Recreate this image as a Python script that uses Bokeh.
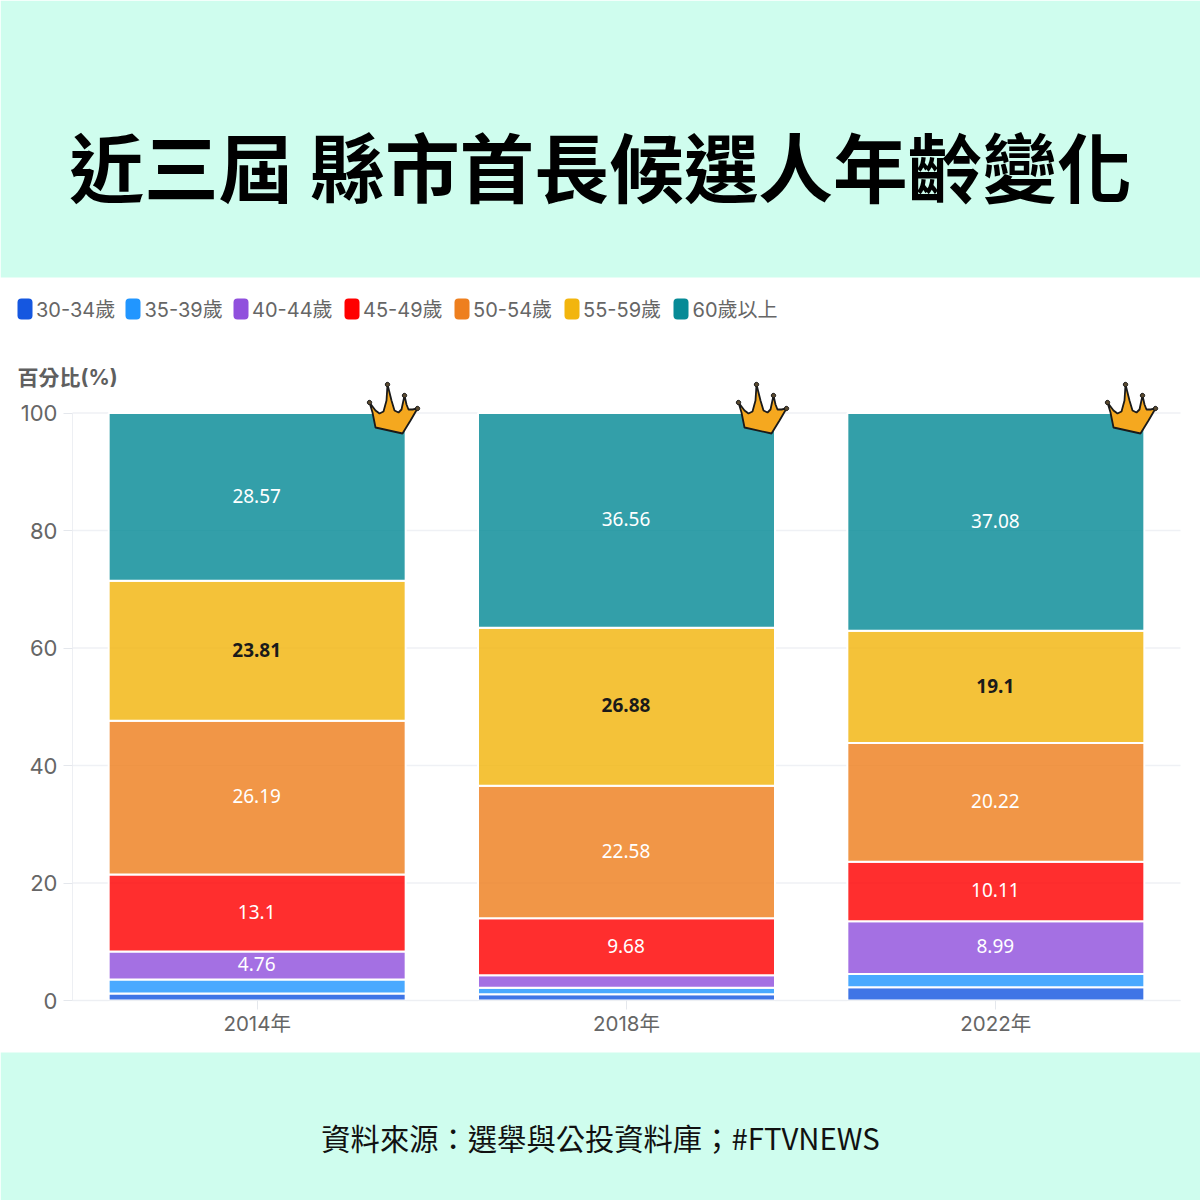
import numpy as np
from bokeh.embed import file_html
from bokeh.resources import INLINE
from bokeh.plotting import figure
from bokeh.models import BoxAnnotation, Label, PolyAnnotation, ColumnDataSource, FixedTicker, Range1d
from bokeh.core.properties import value

W, H = 1200, 1200
years = ["2014年", "2018年", "2022年"]
groups = ["30-34歲", "35-39歲", "40-44歲", "45-49歲", "50-54歲", "55-59歲", "60歲以上"]
age_30_34 = [1.19, 1.08, 2.25]
age_35_39 = [2.38, 1.08, 2.25]
age_40_44 = [4.76, 2.15, 8.99]
age_45_49 = [13.1, 9.68, 10.11]
age_50_54 = [26.19, 22.58, 20.22]
age_55_59 = [23.81, 26.88, 19.1]
age_60_up = [28.57, 36.56, 37.08]
colors = ["#1557E0", "#2196FF", "#9050DD", "#FF0000", "#EE7F1E", "#F2B50E", "#068A96"]
y_ticks = [0, 20, 40, 60, 80, 100]
title_text = "近三屆 縣市首長候選人年齡變化"
source_text = "資料來源\uff1a選舉與公投資料庫\uff1b#FTVNEWS"
y_title = "百分比(%)"
MINT = "#CFFDEE"
LATIN = "Inter, 'Noto Sans CJK TC'"
CJK = "Noto Sans CJK TC"

series = [age_30_34, age_35_39, age_40_44, age_45_49, age_50_54, age_55_59, age_60_up]

# the plotting area is the whole picture: x in pixels, y in percent
PLOT_L, PLOT_R, Y0, Y100 = 72.0, 1180.0, 1000.0, 412.5
PX = (Y0 - Y100) / 100.0
p = figure(width=W, height=H, x_range=Range1d(0, W), y_range=Range1d(-(H - Y0) / PX, Y0 / PX),
           output_backend="svg", toolbar_location=None,
           min_border=0, min_border_left=0, min_border_right=0, min_border_top=0, min_border_bottom=0,
           background_fill_color="white", border_fill_color="white", outline_line_color=None)


def band(top, bottom):
    p.add_layout(BoxAnnotation(left=0, right=W, top=top, bottom=bottom, left_units="canvas",
                               right_units="canvas", top_units="canvas", bottom_units="canvas", fill_color=MINT,
                               fill_alpha=1, line_color=None, level="underlay"))


band(0, 277)
band(1052, 1200)

step = (PLOT_R - PLOT_L) / len(years)
centers = [PLOT_L + step * (i + 0.5) for i in range(len(years))]

# grid
p.xgrid.grid_line_color = None
p.ygrid.grid_line_color = None
p.segment(x0=[PLOT_L] * len(y_ticks), x1=[PLOT_R] * len(y_ticks), y0=y_ticks, y1=y_ticks,
          line_color="#EFF1F5", line_width=1.5)

# stacked bars
data = {"x": centers}
for g, s in zip(groups, series):
    data[g] = s
src = ColumnDataSource(data)
p.vbar_stack(groups, x="x", width=297, source=src, color=colors, fill_alpha=0.82,
             line_color="white", line_width=2, line_alpha=1)

# value labels
tops = np.cumsum(np.array(series, dtype=float), axis=0)
for i, g in enumerate(groups):
    xs, ys, ts = [], [], []
    for j in range(len(years)):
        v = series[i][j]
        if v >= 4:
            xs.append(centers[j] - 0.5)
            ys.append(tops[i][j] - v / 2 + 1.2 / PX)
            ts.append(str(v))
    if xs:
        dark = g == "55-59歲"
        p.text(x=xs, y=ys, text=ts, text_align="center", text_baseline="middle",
               text_font=value("Noto Sans"), text_font_size="19px",
               text_font_style="bold" if dark else "normal",
               text_color="#1A1A1A" if dark else "#FFFFFF")

# axes
p.yaxis.ticker = FixedTicker(ticks=y_ticks)
p.xaxis.ticker = FixedTicker(ticks=centers)
p.xaxis.major_label_overrides = {c: y for c, y in zip(centers, years)}
p.yaxis.fixed_location = PLOT_L
p.xaxis.fixed_location = 0
p.yaxis.bounds = (0, 100)
p.xaxis.bounds = (PLOT_L, PLOT_R)
for ax in (p.xaxis[0], p.yaxis[0]):
    ax.axis_line_color = "#EDEFF3"
    ax.major_tick_line_color = "#E4E7EC"
    ax.major_tick_out = 9
    ax.major_tick_in = 0
    ax.minor_tick_line_color = None
    ax.major_label_text_color = "#666666"
    ax.major_label_text_font = LATIN
    ax.major_label_text_font_size = "22px"
p.xaxis.major_label_text_font_size = "20.5px"
p.yaxis.major_label_standoff = 6
p.xaxis.major_label_standoff = 1

# crowns (decoration, offsets in px from the bar's top right corner)
crown_xs = [-36, -30, -26, -22, -19, -18, -14, -11, -7, -4, -1, 1, 3, 7, 12, 5, -3, -30, -33]
crown_ys = [-6, 2, 5, 3, -8, -24, -8, 2, 4, 1, -13, -4, 1, 1, 0, 12, 25, 19, 4]
crown_tips = [(-36, -6), (-18, -24), (-1, -13), (12, 0)]
for right in [405, 774, 1143]:
    ox, oy = right, 408
    p.add_layout(PolyAnnotation(xs=[ox + a for a in crown_xs], ys=[oy + b for b in crown_ys],
                                xs_units="canvas", ys_units="canvas", fill_color="#F5A81F", fill_alpha=1,
                                line_color="#1A1A1A", line_alpha=1, line_width=1.8, level="annotation"))
    t = np.linspace(0, 2 * np.pi, 12)
    for a, b in crown_tips:
        p.add_layout(PolyAnnotation(xs=[ox + a + 2.2 * c for c in np.cos(t)],
                                    ys=[oy + b + 2.2 * c for c in np.sin(t)],
                                    xs_units="canvas", ys_units="canvas", fill_color="#5A4A30", fill_alpha=1,
                                    line_color="#1A1A1A", line_alpha=1, line_width=1, level="annotation"))


def label(x, y, text, size, color, font, align="left", style="normal"):
    p.add_layout(Label(x=x, y=y, x_units="canvas", y_units="canvas", text=text,
                       text_font=font, text_font_size=f"{size}px", text_color=color, text_align=align,
                       text_baseline="middle", text_font_style=style))


# texts
label(600, 164, title_text, 74.7, "#000000", CJK, "center", "bold")
label(600, 1136, source_text, 29.3, "#111111", CJK, "center")
label(17, 377, y_title, 21, "#5F5F5F", LATIN, "left", "bold")

# legend
swatch_left = [17, 125, 233, 344, 454, 564, 673]
label_left = [35.5, 144, 251.5, 362.5, 472.5, 582.5, 692]
for g, c, a, b in zip(groups, colors, swatch_left, label_left):
    p.add_layout(BoxAnnotation(left=a, right=a + 15, top=298, bottom=319, left_units="canvas",
                               right_units="canvas", top_units="canvas", bottom_units="canvas", fill_color=c,
                               fill_alpha=1, line_color=None, border_radius=4, level="annotation"))
    label(b, 309, g, 20, "#666666", LATIN)

open("out.html", "w").write(file_html(p, INLINE))
